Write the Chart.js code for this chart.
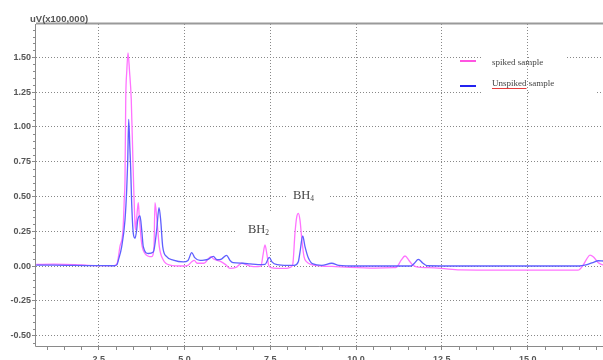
<!DOCTYPE html>
<html>
<head>
<meta charset="utf-8">
<script src="https://cdn.jsdelivr.net/npm/chart.js@4/dist/chart.umd.min.js"></script>
<style>
  html, body { margin: 0; padding: 0; background: #fff; }
  #wrap { width: 603px; height: 360px; }
</style>
</head>
<body>
<div id="wrap"><canvas id="chrom" width="603" height="360"></canvas></div>
<script>
// Retention time (min) and detector signal (uV x 100,000) for each run
const spikedTime = [
  0.68, 1.2, 1.8, 2.2, 2.6, 2.95, 3.04, 3.12, 3.21, 3.25, 3.268, 3.29, 3.32, 3.356, 3.40, 3.45,
  3.50, 3.53, 3.56, 3.574, 3.61, 3.656, 3.685, 3.755, 3.851, 4.046, 4.113, 4.142, 4.192,
  4.268, 4.384, 4.579, 4.967, 5.104, 5.212, 5.287, 5.37, 5.57, 5.774, 5.85, 6.036, 6.2,
  6.328, 6.50, 6.669, 6.91, 7.144, 7.231, 7.29, 7.347, 7.406, 7.45, 7.52, 7.70, 7.95,
  8.076, 8.155, 8.222, 8.27, 8.318, 8.367, 8.417, 8.484, 8.563, 8.7, 9.0, 9.3, 9.82,
  10.55, 11.1, 11.185, 11.31, 11.427, 11.543, 11.66, 11.8, 12.1, 12.48, 13.03, 14.2,
  15.36, 16.468, 16.60, 16.72, 16.817, 16.92, 17.05, 17.196
];
const spikedSignal = [
  0.012, 0.013, 0.010, 0.005, 0.003, 0.003, 0.02, 0.14, 0.26, 0.5, 0.62, 1.2, 1.4, 1.533, 1.4, 1.2,
  0.75, 0.5, 0.30, 0.26, 0.35, 0.455, 0.35, 0.16, 0.09, 0.067, 0.14, 0.455, 0.35,
  0.14, 0.043, 0.007, 0.0, 0.005, 0.03, 0.04, 0.02, 0.02, 0.067, 0.05, 0.035, 0.01,
  -0.017, -0.01, 0.02, 0.0, -0.005, 0.0, 0.08, 0.151, 0.08, 0.01, -0.012, -0.017, -0.017,
  -0.01, 0.01, 0.24, 0.35, 0.379, 0.33, 0.2, 0.067, 0.03, 0.01, 0.0, -0.003, -0.01,
  -0.015, -0.012, -0.008, 0.04, 0.072, 0.04, 0.005, -0.008, -0.012, -0.017, -0.028, -0.03,
  -0.03, -0.03, 0.0, 0.05, 0.079, 0.065, 0.025, 0.007
];
const unspikedTime = [
  0.68, 1.2, 1.8, 2.4, 2.95, 3.035, 3.073, 3.172, 3.268, 3.318, 3.347, 3.376, 3.41, 3.434,
  3.463, 3.51, 3.56, 3.609, 3.638, 3.705, 3.755, 3.801, 3.947, 4.093, 4.192, 4.259, 4.308,
  4.367, 4.483, 4.676, 4.967, 5.104, 5.212, 5.30, 5.454, 5.57, 5.70, 5.841, 5.95, 6.08,
  6.226, 6.33, 6.415, 6.706, 6.91, 7.144, 7.35, 7.473, 7.55, 7.70, 8.0, 8.2, 8.318, 8.367,
  8.446, 8.513, 8.609, 8.746, 9.0, 9.291, 9.5, 10.0, 11.0, 11.6, 11.7, 11.814, 11.95,
  12.07, 13.0, 15.0, 16.5, 16.70, 16.9, 17.06, 17.196
];
const unspikedSignal = [
  0.006, 0.006, 0.004, 0.003, 0.002, 0.01, 0.04, 0.14, 0.33, 0.55, 0.75, 1.055, 0.85, 0.70,
  0.45, 0.235, 0.20, 0.26, 0.33, 0.36, 0.26, 0.14, 0.09, 0.10, 0.26, 0.42, 0.33,
  0.14, 0.067, 0.043, 0.03, 0.04, 0.096, 0.06, 0.04, 0.042, 0.05, 0.07, 0.045, 0.05,
  0.077, 0.04, 0.024, 0.02, 0.015, 0.01, 0.012, 0.062, 0.03, 0.01, 0.005, 0.005, 0.03, 0.1,
  0.216, 0.14, 0.06, 0.015, 0.005, 0.02, 0.005, 0.0, 0.0, 0.0, 0.02, 0.048, 0.02,
  0.002, 0.0, 0.0, 0.0, 0.008, 0.025, 0.038, 0.036
];

const seriesNames = ['spiked sample', 'Unspiked sample'];
const xTickValues = [2.5, 5.0, 7.5, 10.0, 12.5, 15.0];
const yTickValues = [-0.5, -0.25, 0.0, 0.25, 0.5, 0.75, 1.0, 1.25, 1.5];
const axisTitle = 'uV(x100,000)';
// Peak annotations: [main text, subscript, time, signal at text baseline]
const peakLabels = [
  ['BH', '2', 6.852, 0.237],
  ['BH', '4', 8.163, 0.48]
];

const PINK = 'rgb(255,115,255)';
const BLUE = 'rgb(95,95,255)';
const AXIS = '#8a8a8a';

const toPoints = (xs, ys) => xs.map((v, i) => ({ x: v, y: ys[i] }));

const decorations = {
  id: 'decorations',
  beforeDraw(chart) {
    const { ctx, width, height } = chart;
    ctx.save();
    ctx.fillStyle = '#fff';
    ctx.fillRect(0, 0, width, height);
    ctx.restore();
  },
  beforeDatasetsDraw(chart) {
    const { ctx, chartArea: a, scales: { x, y } } = chart;
    ctx.save();
    // white patches behind the text labels
    ctx.fillStyle = '#fff';
    const x15 = x.getPixelForValue(15.0);
    ctx.fillRect(482, 50, x15 - 1.5 - 482, 13);
    ctx.fillRect(x15 + 1.5, 50, 565 - x15 - 1.5, 13);
    ctx.fillRect(482, 76, x15 - 1.5 - 482, 20);
    ctx.fillRect(x15 + 1.5, 76, 595 - x15 - 1.5, 20);
    peakLabels.forEach(([t, s, tx, ty], i) => {
      const px = x.getPixelForValue(tx), py = y.getPixelForValue(ty);
      if (i === 0) ctx.fillRect(px - 11, py - 22, 55, 32);
      else ctx.fillRect(px - 5, py - 11, 42, 14);
    });

    // frame lines
    ctx.strokeStyle = '#9a9a9a';
    ctx.lineWidth = 2;
    ctx.beginPath();
    ctx.moveTo(a.left, a.top - 0.5);
    ctx.lineTo(a.right, a.top - 0.5);
    ctx.stroke();
    ctx.strokeStyle = AXIS;
    ctx.lineWidth = 1;
    ctx.beginPath();
    ctx.moveTo(a.left - 0.5, a.top);
    ctx.lineTo(a.left - 0.5, a.bottom + 0.5);
    ctx.lineTo(a.right, a.bottom + 0.5);
    ctx.stroke();

    // minor tick marks
    ctx.beginPath();
    for (let k = 2; k <= 34; k++) {
      const v = k * 0.5;
      if (Math.abs(v / 2.5 - Math.round(v / 2.5)) < 1e-6) continue;
      const px = Math.round(x.getPixelForValue(v)) + 0.5;
      if (px < a.left || px > a.right) continue;
      ctx.moveTo(px, a.bottom);
      ctx.lineTo(px, a.bottom + 4);
    }
    for (let k = -11; k <= 34; k++) {
      const v = k * 0.05;
      if (k % 5 === 0) continue;
      const py = Math.round(y.getPixelForValue(v)) + 0.5;
      if (py < a.top || py > a.bottom) continue;
      ctx.moveTo(a.left, py);
      ctx.lineTo(a.left - 3, py);
    }
    ctx.stroke();
    ctx.restore();
  },
  afterDatasetsDraw(chart) {
    const { ctx, scales: { x, y } } = chart;
    ctx.save();
    // axis title
    ctx.fillStyle = '#555';
    ctx.font = 'bold 9.5px "Liberation Sans", Arial, sans-serif';
    ctx.textBaseline = 'middle';
    ctx.textAlign = 'left';
    ctx.fillText(axisTitle, 30, 19);

    // peak labels
    ctx.fillStyle = '#444';
    ctx.textBaseline = 'alphabetic';
    peakLabels.forEach(([t, s, tx, ty]) => {
      const px = x.getPixelForValue(tx), py = y.getPixelForValue(ty);
      ctx.font = '12.5px "Liberation Serif", "Times New Roman", serif';
      ctx.fillText(t, px, py);
      const w = ctx.measureText(t).width;
      ctx.font = '7.5px "Liberation Serif", "Times New Roman", serif';
      ctx.fillText(s, px + w, py + 2);
    });

    // legend
    const entries = [[seriesNames[0], 'rgb(255,85,225)', 61, 65], [seriesNames[1], 'rgb(35,35,240)', 86, 86]];
    ctx.lineWidth = 2;
    ctx.font = '9px "Liberation Serif", "Times New Roman", serif';
    entries.forEach(([name, color, ly, ty]) => {
      ctx.strokeStyle = color;
      ctx.beginPath();
      ctx.moveTo(460, ly);
      ctx.lineTo(476, ly);
      ctx.stroke();
      ctx.fillStyle = '#444';
      ctx.fillText(name, 492, ty);
    });
    // proofing underline under the second entry's first word
    const uw = ctx.measureText(seriesNames[1].split(' ')[0]).width;
    ctx.strokeStyle = 'rgb(230,60,60)';
    ctx.lineWidth = 1;
    ctx.beginPath();
    ctx.moveTo(492, 88.5);
    ctx.lineTo(492 + uw, 88.5);
    ctx.stroke();
    ctx.restore();
  }
};

new Chart(document.getElementById('chrom'), {
  type: 'line',
  data: {
    datasets: [
      {
        label: seriesNames[0],
        data: toPoints(spikedTime, spikedSignal),
        borderColor: PINK,
        borderWidth: 1.3,
        pointRadius: 0,
        cubicInterpolationMode: 'monotone',
        fill: false,
        order: 1
      },
      {
        label: seriesNames[1],
        data: toPoints(unspikedTime, unspikedSignal),
        borderColor: BLUE,
        borderWidth: 1.3,
        pointRadius: 0,
        cubicInterpolationMode: 'monotone',
        fill: false,
        order: 0
      }
    ]
  },
  options: {
    responsive: false,
    animation: false,
    devicePixelRatio: 1,
    layout: { padding: { top: 24, right: 0, bottom: 0, left: 0 } },
    plugins: { legend: { display: false }, tooltip: { enabled: false } },
    scales: {
      x: {
        type: 'linear',
        min: 0.675,
        max: 17.196,
        afterBuildTicks: (s) => { s.ticks = xTickValues.map(v => ({ value: v })); },
        afterFit: (s) => { s.height = 14; },
        border: { display: false, dash: [1, 2] },
        grid: {
          color: '#888',
          lineWidth: 1,
          drawTicks: true,
          tickLength: 4,
          tickColor: AXIS,
          tickBorderDash: []
        },
        ticks: {
          color: '#555',
          font: { family: '"Liberation Sans", Arial, sans-serif', size: 9, weight: 'bold' },
          padding: 4,
          maxRotation: 0,
          autoSkip: false,
          callback: (v) => Number(v).toFixed(1)
        }
      },
      y: {
        type: 'linear',
        min: -0.575,
        max: 1.74,
        afterBuildTicks: (s) => { s.ticks = yTickValues.map(v => ({ value: v })); },
        afterFit: (s) => { s.width = 36; },
        border: { display: false, dash: [1, 2] },
        grid: {
          color: '#888',
          lineWidth: 1,
          drawTicks: true,
          tickLength: 4,
          tickColor: AXIS,
          tickBorderDash: []
        },
        ticks: {
          color: '#555',
          font: { family: '"Liberation Sans", Arial, sans-serif', size: 9, weight: 'bold' },
          padding: 1,
          autoSkip: false,
          callback: (v) => Number(v).toFixed(2)
        }
      }
    }
  },
  plugins: [decorations]
});
</script>
</body>
</html>
